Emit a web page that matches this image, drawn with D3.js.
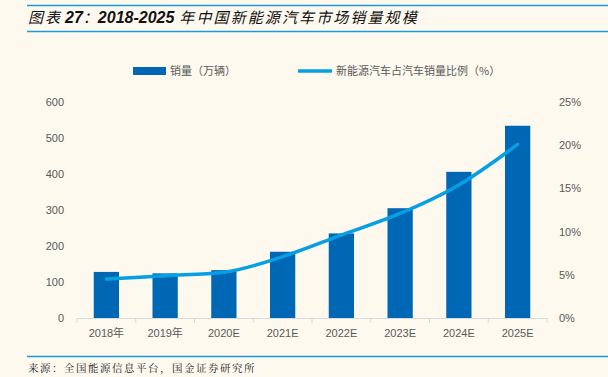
<!DOCTYPE html>
<html>
<head>
<meta charset="utf-8">
<script src="https://cdn.jsdelivr.net/npm/d3@7/dist/d3.min.js"></script>
<style>
  body { margin: 0; background: #fdf9ef; }
  svg { display: block; }
</style>
</head>
<body>
<div id="chart"></div>
<script>
var categories = ['2018年', '2019年', '2020E', '2021E', '2022E', '2023E', '2024E', '2025E']
var sales = [128, 124, 133, 184, 235, 305, 406, 534]
var share = [4.5, 4.9, 5.3, 7.1, 9.6, 12.1, 15.4, 20.1]
var leftTicks = [0, 100, 200, 300, 400, 500, 600]
var rightTicks = [0, 5, 10, 15, 20, 25]

var W = 608, H = 377
var font = '"Liberation Sans", Arial, "Noto Sans CJK SC", sans-serif'
var cjk = '"Noto Sans CJK SC", sans-serif'
var svg = d3.select('#chart').append('svg')
  .attr('width', W).attr('height', H)

svg.append('rect').attr('width', W).attr('height', H).attr('fill', '#fdf9ef')

// title block
svg.append('line').attr('x1', 27).attr('x2', W).attr('y1', 5.5).attr('y2', 5.5)
  .attr('stroke', '#1a9be0').attr('stroke-width', 1.5)
svg.append('line').attr('x1', 27).attr('x2', W).attr('y1', 31.5).attr('y2', 31.5)
  .attr('stroke', '#1a9be0').attr('stroke-width', 1.5)
var title = svg.append('text').attr('x', 28).attr('y', 23)
  .attr('font-style', 'italic').attr('fill', '#111')
title.append('tspan').attr('font-family', cjk).attr('font-size', 15)
  .attr('letter-spacing', 2).text('图表')
title.append('tspan').attr('font-family', font).attr('font-size', 16).attr('font-weight', 'bold')
  .attr('dx', 3).text('27')
title.append('tspan').attr('font-family', cjk).attr('font-size', 15).text('：')
title.append('tspan').attr('font-family', font).attr('font-size', 16).attr('font-weight', 'bold')
  .text('2018-2025')
title.append('tspan').attr('font-family', cjk).attr('font-size', 15)
  .attr('letter-spacing', 2.1).attr('dx', 5).text('年中国新能源汽车市场销量规模')

// source
svg.append('line').attr('x1', 27).attr('x2', W).attr('y1', 356.5).attr('y2', 356.5)
  .attr('stroke', '#1a9be0').attr('stroke-width', 1.5)
svg.append('text').attr('x', 28).attr('y', 372)
  .attr('font-family', '"Noto Serif CJK SC", "Noto Sans CJK SC", serif')
  .attr('font-size', 10.5).attr('letter-spacing', 1.5).attr('fill', '#222')
  .text('来源：全国能源信息平台，国金证券研究所')

var x = d3.scaleBand().domain(categories).range([77, 547]).paddingInner(0.57).paddingOuter(0.285)
var band = d3.scaleBand().domain(categories).range([77, 547])
var y = d3.scaleLinear().domain([0, 600]).range([318, 102])
var y2 = d3.scaleLinear().domain([0, 25]).range([318, 102])

// left axis labels
svg.append('g').selectAll('text').data(leftTicks).enter().append('text')
  .attr('x', 64).attr('y', function(d) { return y(d) + 4 })
  .attr('text-anchor', 'end').attr('font-family', font).attr('font-size', 11)
  .attr('fill', '#595959').text(function(d) { return d })

// right axis labels
svg.append('g').selectAll('text').data(rightTicks).enter().append('text')
  .attr('x', 559).attr('y', function(d) { return y2(d) + 4 })
  .attr('text-anchor', 'start').attr('font-family', font).attr('font-size', 11)
  .attr('fill', '#595959').text(function(d) { return d + '%' })

// bars
svg.append('g').selectAll('rect').data(sales).enter().append('rect')
  .attr('x', function(d, i) { return x(categories[i]) })
  .attr('width', x.bandwidth())
  .attr('y', function(d) { return y(d) })
  .attr('height', function(d) { return y(0) - y(d) })
  .attr('fill', '#0067b4')

// x axis
var xAxis = svg.append('g').attr('transform', 'translate(0,318)')
  .call(d3.axisBottom(band).tickSize(0).tickPadding(11))
xAxis.select('.domain').attr('stroke', '#d9d9d9')
xAxis.selectAll('text').attr('font-size', 11).attr('fill', '#595959')
  .attr('font-family', '"Liberation Sans", "Noto Sans CJK SC", sans-serif')
svg.append('g').selectAll('line').data(d3.range(categories.length + 1)).enter().append('line')
  .attr('x1', function(i) { return 77 + i * band.step() })
  .attr('x2', function(i) { return 77 + i * band.step() })
  .attr('y1', 318).attr('y2', 323).attr('stroke', '#d9d9d9')

// share line
var line = d3.line()
  .x(function(d, i) { return band(categories[i]) + band.bandwidth() / 2 })
  .y(function(d) { return y2(d) })
  .curve(d3.curveMonotoneX)
svg.append('path').datum(share)
  .attr('fill', 'none').attr('stroke', '#069fe5').attr('stroke-width', 3.5)
  .attr('stroke-linecap', 'round').attr('d', line)

// legend
svg.append('rect').attr('x', 133).attr('y', 67).attr('width', 33).attr('height', 8).attr('fill', '#0067b4')
svg.append('text').attr('x', 170).attr('y', 75).attr('font-family', cjk)
  .attr('font-size', 11).attr('fill', '#595959').text('销量（万辆）')
svg.append('line').attr('x1', 298).attr('x2', 332).attr('y1', 71).attr('y2', 71)
  .attr('stroke', '#069fe5').attr('stroke-width', 3.5)
svg.append('text').attr('x', 336).attr('y', 75).attr('font-family', cjk)
  .attr('font-size', 11).attr('fill', '#595959').text('新能源汽车占汽车销量比例（%）')
</script>
</body>
</html>
